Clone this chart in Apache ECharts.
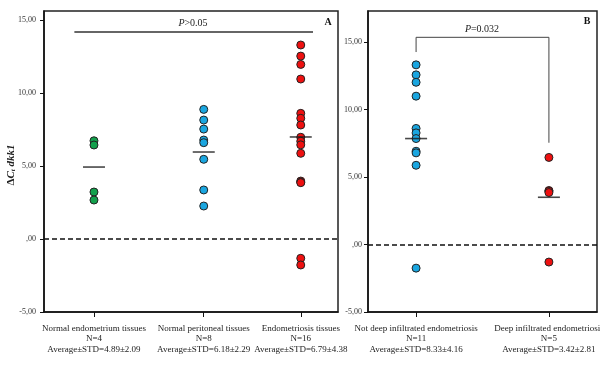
<!DOCTYPE html>
<html><head><meta charset="utf-8">
<script src="https://cdn.jsdelivr.net/npm/echarts@6/dist/echarts.min.js"></script>
<style>html,body{margin:0;padding:0;background:#fff}#c{width:600px;height:369px}</style>
</head><body><div id="c"></div>
<script>
// ---- data ----
const groupsA = ['Normal endometrium tissues', 'Normal peritoneal tissues', 'Endometriosis tissues'];
const countsA = ['N=4', 'N=8', 'N=16'];
const statsA = ['Average±STD=4.89±2.09', 'Average±STD=6.18±2.29', 'Average±STD=6.79±4.38'];
const posA = [0.51, 1.63, 2.62];
const normalEndoVals = [6.73, 6.44, 3.22, 2.67];
const normalPeriVals = [8.88, 8.15, 7.53, 6.78, 6.6, 5.46, 3.36, 2.26];
const endoVals = [13.29, 12.53, 11.96, 10.96, 8.61, 8.27, 7.81, 6.97, 6.7, 6.45, 5.87, 3.97, 3.9, 3.86, -1.32, -1.78];
const meansA = [4.93, 5.96, 6.99];
const sigLineA = { x: [0.31, 2.745], y: 14.18, label: 'P>0.05' };

const groupsB = ['Not deep infiltrated endometriosis', 'Deep infiltrated endometriosis'];
const countsB = ['N=11', 'N=5'];
const statsB = ['Average±STD=8.33±4.16', 'Average±STD=3.42±2.81'];
const posB = [0.42, 1.58];
const notDeepVals = [13.31, 12.57, 12.02, 10.99, 8.6, 8.27, 7.85, 6.91, 6.79, 5.87, -1.75];
const deepVals = [6.45, 4.0, 3.95, 3.85, -1.3];
const meansB = [7.85, 3.5];
const bracketB = { leftEnd: 14.26, top: 15.35, rightEnd: 7.54, label: 'P=0.032' };

const yTicks = [-5, 0, 5, 10, 15];

// ---- styles ----
const serif = 'Liberation Serif';
const GREEN = '#13a04c', BLUE = '#1aa6e0', RED = '#ee1010';

function yFmt(v) { return v === 0 ? ',00' : v.toFixed(2).replace('.', ','); }
function xFmt(pos, g, n, s) {
  return function (v) {
    const i = pos.findIndex(p => Math.abs(p - v) < 1e-6);
    return i < 0 ? '' : g[i] + '\n' + n[i] + '\n' + s[i];
  };
}
function yAxis(idx, max, margin) {
  return {
    type: 'value', gridIndex: idx, min: -5, max: max,
    axisLine: { show: true, lineStyle: { color: '#111', width: 1.5 } },
    axisTick: { show: true, length: 4, customValues: yTicks, lineStyle: { color: '#111', width: 1 } },
    axisLabel: { customValues: yTicks, formatter: yFmt, fontFamily: serif, fontSize: 8, color: '#333', margin: margin },
    splitLine: { show: false }
  };
}
function xAxis(idx, max, pos, g, n, s) {
  return {
    type: 'value', gridIndex: idx, min: 0, max: max,
    axisLine: { show: true, onZero: false, lineStyle: { color: '#111', width: 1.5 } },
    axisTick: { show: true, length: 5, customValues: pos, lineStyle: { color: '#111', width: 1 } },
    axisLabel: { customValues: pos, formatter: xFmt(pos, g, n, s), fontFamily: serif, fontSize: 9, color: '#222', lineHeight: 10.5, margin: 11 },
    splitLine: { show: false }
  };
}
function dots(xi, x, vals, color) {
  return {
    type: 'scatter', xAxisIndex: xi, yAxisIndex: xi, symbol: 'circle', symbolSize: 8,
    itemStyle: { color: color, borderColor: '#222', borderWidth: 1, opacity: 1 },
    data: vals.map(v => [x, v]), z: 3
  };
}
function meanMarks(xi, pos, means) {
  return {
    type: 'scatter', xAxisIndex: xi, yAxisIndex: xi, symbol: 'rect', symbolSize: [22, 1.6],
    itemStyle: { color: '#1a1a1a' }, data: means.map((m, i) => [pos[i], m]), z: 5
  };
}
function zeroLine(xi) {
  return {
    type: 'line', xAxisIndex: xi, yAxisIndex: xi, data: [], silent: true,
    markLine: { symbol: 'none', silent: true, label: { show: false },
      lineStyle: { color: '#111', type: [5, 3], width: 1.5 }, data: [{ yAxis: 0 }] }
  };
}

const chart = echarts.init(document.getElementById('c'));
chart.setOption({
  animation: false,
  grid: [
    { left: 44, top: 11, width: 294, height: 301, show: true, borderColor: '#222', borderWidth: 1.5, outerBoundsMode: 'none', containLabel: false },
    { left: 368, top: 11, width: 229, height: 301, show: true, borderColor: '#222', borderWidth: 1.5, outerBoundsMode: 'none', containLabel: false }
  ],
  xAxis: [xAxis(0, 3, posA, groupsA, countsA, statsA), xAxis(1, 2, posB, groupsB, countsB, statsB)],
  yAxis: [yAxis(0, 15.62, 8), yAxis(1, 17.3, 6)],
  series: [
    zeroLine(0), zeroLine(1),
    dots(0, posA[0], normalEndoVals, GREEN),
    dots(0, posA[1], normalPeriVals, BLUE),
    dots(0, posA[2], endoVals, RED),
    meanMarks(0, posA, meansA),
    { type: 'line', xAxisIndex: 0, yAxisIndex: 0, symbol: 'none', silent: true,
      lineStyle: { color: '#333', width: 1.5 },
      data: sigLineA.x.map(x => [x, sigLineA.y]) },
    dots(1, posB[0], notDeepVals, BLUE),
    dots(1, posB[1], deepVals, RED),
    meanMarks(1, posB, meansB),
    { type: 'line', xAxisIndex: 1, yAxisIndex: 1, symbol: 'none', silent: true,
      lineStyle: { color: '#444', width: 1 },
      data: [[posB[0], bracketB.leftEnd], [posB[0], bracketB.top], [posB[1], bracketB.top], [posB[1], bracketB.rightEnd]] }
  ],
  graphic: [
    { type: 'text', x: 11, y: 165, rotation: Math.PI / 2,
      style: { text: '{d|Δ}{c|C}{s|t}{i| dkk1}', align: 'center', verticalAlign: 'middle',
        rich: {
          d: { fontFamily: serif, fontSize: 11, fontWeight: 'bold', fill: '#222' },
          c: { fontFamily: serif, fontSize: 11, fontWeight: 'bold', fontStyle: 'italic', fill: '#222' },
          s: { fontFamily: serif, fontSize: 7, fontWeight: 'bold', fontStyle: 'italic', fill: '#222', verticalAlign: 'bottom', padding: [5, 0, 0, 0] },
          i: { fontFamily: serif, fontSize: 11, fontWeight: 'bold', fontStyle: 'italic', fill: '#222' }
        } } },
    { type: 'text', x: 193, y: 23,
      style: { text: '{i|P}{n|' + sigLineA.label.slice(1) + '}', align: 'center', verticalAlign: 'middle',
        rich: { i: { fontFamily: serif, fontSize: 10, fontStyle: 'italic', fill: '#222' },
                n: { fontFamily: serif, fontSize: 10, fill: '#222' } } } },
    { type: 'text', x: 482, y: 29,
      style: { text: '{i|P}{n|' + bracketB.label.slice(1) + '}', align: 'center', verticalAlign: 'middle',
        rich: { i: { fontFamily: serif, fontSize: 10, fontStyle: 'italic', fill: '#222' },
                n: { fontFamily: serif, fontSize: 10, fill: '#222' } } } },
    { type: 'text', x: 328, y: 22, style: { text: 'A', fontFamily: serif, fontSize: 10, fontWeight: 'bold', fill: '#111', align: 'center', verticalAlign: 'middle' } },
    { type: 'text', x: 587, y: 21, style: { text: 'B', fontFamily: serif, fontSize: 10, fontWeight: 'bold', fill: '#111', align: 'center', verticalAlign: 'middle' } }
  ]
});
</script></body></html>
